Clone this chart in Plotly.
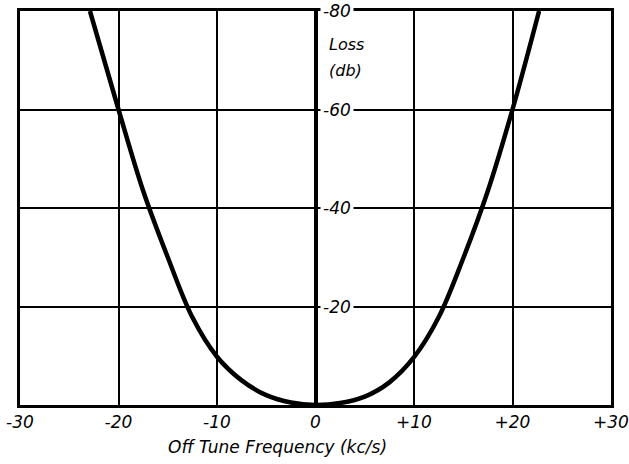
import plotly.graph_objects as go

# Loss of a tuned circuit versus detuning
freq_kcs = [-22.9, -20, -17.5, -15, -12.5, -10, -7.5, -5, -2.5, 0,
            2.5, 5, 7.5, 10, 12.5, 15, 17.5, 20, 22.7]
loss_db = [80, 60, 43.5, 30, 17.8, 9.8, 5.0, 2.0, 0.5, 0,
           0.4, 1.7, 4.6, 9.7, 17.8, 29.8, 43.5, 60, 80]

x_ticks = [-30, -20, -10, 0, 10, 20, 30]
x_tick_text = ["-30", "-20", "-10", "0", "+10", "+20", "+30"]
y_marks = [20, 40, 60, 80]

font_family = "DejaVu Sans"

fig = go.Figure()
fig.add_trace(go.Scatter(
    x=freq_kcs, y=loss_db, mode="lines",
    line=dict(color="black", width=4.5, shape="spline", smoothing=1.0),
    hoverinfo="skip", showlegend=False,
))

# value labels along the central axis, blanking the grid behind them
for v in y_marks:
    fig.add_annotation(
        x=0, y=v, xref="x", yref="y", text="-" + str(v),
        showarrow=False, xanchor="left", yanchor="middle", xshift=4,
        bgcolor="white", borderpad=2,
        font=dict(family=font_family, size=17, color="black", style="italic"),
    )

for txt, yv in [("Loss", 73.2), ("(db)", 68.0)]:
    fig.add_annotation(
        x=0, y=yv, xref="x", yref="y", text=txt,
        showarrow=False, xanchor="left", yanchor="middle", xshift=11,
        font=dict(family=font_family, size=16, color="black", style="italic"),
    )

fig.add_annotation(
    x=0.435, y=-0.107, xref="paper", yref="paper",
    text="Off Tune Frequency (kc/s)", showarrow=False,
    xanchor="center", yanchor="middle",
    font=dict(family=font_family, size=17, color="black", style="italic"),
)

fig.update_xaxes(
    range=[-30, 30], tickvals=x_ticks, ticktext=x_tick_text,
    showgrid=True, gridcolor="black", gridwidth=2,
    showline=True, linecolor="black", linewidth=3, mirror=True,
    zeroline=True, zerolinecolor="black", zerolinewidth=3.5,
    ticks="", ticklabelstandoff=0, automargin=False,
    tickfont=dict(family=font_family, size=17, color="black", style="italic"),
)
fig.update_yaxes(
    range=[0, 80], tickvals=[0, 20, 40, 60, 80], showticklabels=False,
    showgrid=True, gridcolor="black", gridwidth=2,
    showline=True, linecolor="black", linewidth=3, mirror=True,
    zeroline=False, ticks="", automargin=False,
)

fig.update_layout(
    width=629, height=464,
    margin=dict(l=20, r=18, t=11, b=59),
    paper_bgcolor="white", plot_bgcolor="white",
)

fig.write_html("out.html")
